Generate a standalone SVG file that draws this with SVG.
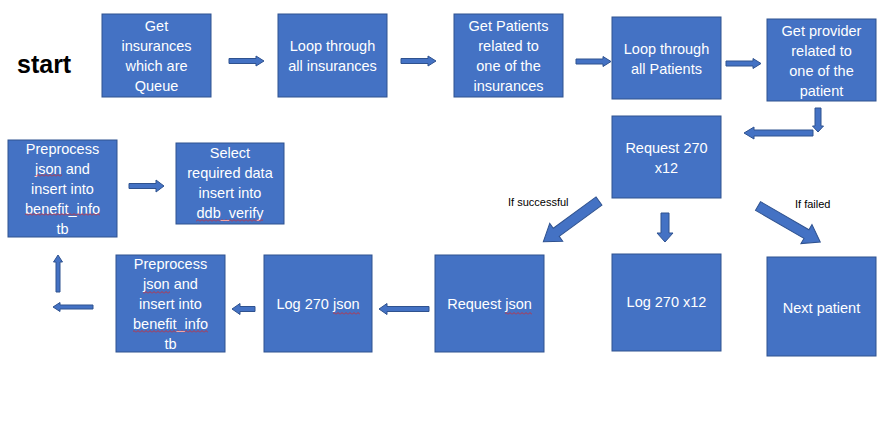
<svg xmlns="http://www.w3.org/2000/svg" width="885" height="432" viewBox="0 0 885 432">
<defs>
<style>
.box{fill:#4472C4;stroke:#2F528F;stroke-width:1}
.arr{fill:#4472C4;stroke:#2F528F;stroke-width:1}
.t{fill:#fff;font-family:"Liberation Sans",Arial,sans-serif;font-size:14.5px;text-anchor:middle}
.lbl{fill:#000;font-family:"Liberation Sans",Arial,sans-serif;font-size:11px}
.sq{fill:url(#sqp)}
</style>
<pattern id="sqp" patternUnits="userSpaceOnUse" width="4" height="3">
<path d="M0,2.5 L2,0.5 L4,2.5" fill="none" stroke="#e02020" stroke-width="0.8"/>
</pattern>
</defs>
<rect width="885" height="432" fill="#fff"/>
<text x="17" y="73" style="font-family:'Liberation Sans',Arial,sans-serif;font-size:25px;font-weight:bold;fill:#000">start</text>

<g id="n1"><rect class="box" x="102" y="14" width="109" height="83"/>
<text class="t" x="156.5" y="31">Get</text><text class="t" x="156.5" y="51">insurances</text><text class="t" x="156.5" y="71">which are</text><text class="t" x="156.5" y="91">Queue</text></g>
<g id="n2"><rect class="box" x="278" y="14" width="109" height="83"/>
<text class="t" x="332.5" y="51">Loop through</text><text class="t" x="332.5" y="71">all insurances</text></g>
<g id="n3"><rect class="box" x="454" y="14" width="109" height="83"/>
<text class="t" x="508.5" y="31">Get Patients</text><text class="t" x="508.5" y="51">related to</text><text class="t" x="508.5" y="71">one of the</text><text class="t" x="508.5" y="91">insurances</text></g>
<g id="n4"><rect class="box" x="612" y="17" width="109" height="82"/>
<text class="t" x="666.5" y="54">Loop through</text><text class="t" x="666.5" y="74">all Patients</text></g>
<g id="n5"><rect class="box" x="767" y="19" width="109" height="82"/>
<text class="t" x="821.5" y="36">Get provider</text><text class="t" x="821.5" y="56">related to</text><text class="t" x="821.5" y="76">one of the</text><text class="t" x="821.5" y="96">patient</text></g>
<g id="n6"><rect class="box" x="612" y="116" width="109" height="82"/>
<text class="t" x="666.5" y="153">Request 270</text><text class="t" x="666.5" y="173">x12</text></g>
<g id="n7"><rect class="box" x="8" y="140" width="109" height="97"/>
<text class="t" x="62.5" y="154">Preprocess</text><text class="t" x="62.5" y="174">json and</text><text class="t" x="62.5" y="194">insert into</text><text class="t" x="62.5" y="214">benefit_info</text><text class="t" x="62.5" y="234">tb</text>
<rect class="sq" x="35" y="174" width="27" height="3"/><rect class="sq" x="25" y="213" width="75" height="3"/></g>
<g id="n8"><rect class="box" x="176" y="143" width="108" height="81"/>
<text class="t" x="230" y="158">Select</text><text class="t" x="230" y="178">required data</text><text class="t" x="230" y="198">insert into</text><text class="t" x="230" y="218">ddb_verify</text>
<rect class="sq" x="196" y="219" width="67" height="3"/></g>
<g id="n9"><rect class="box" x="116" y="255" width="109" height="97"/>
<text class="t" x="170.5" y="269">Preprocess</text><text class="t" x="170.5" y="289">json and</text><text class="t" x="170.5" y="309">insert into</text><text class="t" x="170.5" y="329">benefit_info</text><text class="t" x="170.5" y="349">tb</text>
<rect class="sq" x="143" y="291" width="27" height="3"/><rect class="sq" x="133" y="330" width="75" height="3"/></g>
<g id="n10"><rect class="box" x="264" y="255" width="108" height="97"/>
<text class="t" x="318" y="309">Log 270 json</text>
<rect class="sq" x="333" y="312" width="27" height="3"/></g>
<g id="n11"><rect class="box" x="435" y="255" width="109" height="97"/>
<text class="t" x="489.5" y="309">Request json</text>
<rect class="sq" x="505" y="312" width="27" height="3"/></g>
<g id="n12"><rect class="box" x="612" y="254" width="109" height="97"/>
<text class="t" x="666.5" y="307">Log 270 x12</text></g>
<g id="n13"><rect class="box" x="767" y="257" width="109" height="99"/>
<text class="t" x="821.5" y="313">Next patient</text></g>

<g id="connectors">
<polygon class="arr" points="229,58.5 256,58.5 256,56 264,61 256,66 256,63.5 229,63.5"/>
<polygon class="arr" points="401,58.5 428,58.5 428,56 436,61 428,66 428,63.5 401,63.5"/>
<polygon class="arr" points="576,59 603,59 603,56.5 611,61.5 603,66.5 603,64 576,64"/>
<polygon class="arr" points="726,61 753,61 753,58.5 761,63.5 753,68.5 753,66 726,66"/>
<polygon class="arr" points="815,108 821,108 821,126 823.5,126 818,132 812.5,126 815,126"/>
<polygon class="arr" points="813,130 754,130 754,127 744,133 754,139 754,136 813,136"/>
<polygon class="arr" points="661,213 669,213 669,233 673,233 665,242 657,233 661,233"/>
<polygon class="arr" transform="translate(599,201) rotate(143.8)" points="0,-5 53,-5 53,-11 69,0 53,11 53,5 0,5"/>
<polygon class="arr" transform="translate(758,206) rotate(30.1)" points="0,-5 56,-5 56,-11 72,0 56,11 56,5 0,5"/>
<polygon class="arr" points="429,306.5 387,306.5 387,303.5 379,309 387,314.5 387,311.5 429,311.5"/>
<polygon class="arr" points="255,306.5 240,306.5 240,303.5 232,309 240,314.5 240,311.5 255,311.5"/>
<polygon class="arr" points="93,305 60,305 60,302.5 53,307 60,311.5 60,309 93,309"/>
<polygon class="arr" points="56,292 56,262 53.5,262 58,255 62.5,262 60,262 60,292"/>
<polygon class="arr" points="129,183.5 156,183.5 156,180 164,186 156,192 156,188.5 129,188.5"/>
<text class="lbl" x="508" y="206">If successful</text>
<text class="lbl" x="795" y="208">If failed</text>
</g>
</svg>
